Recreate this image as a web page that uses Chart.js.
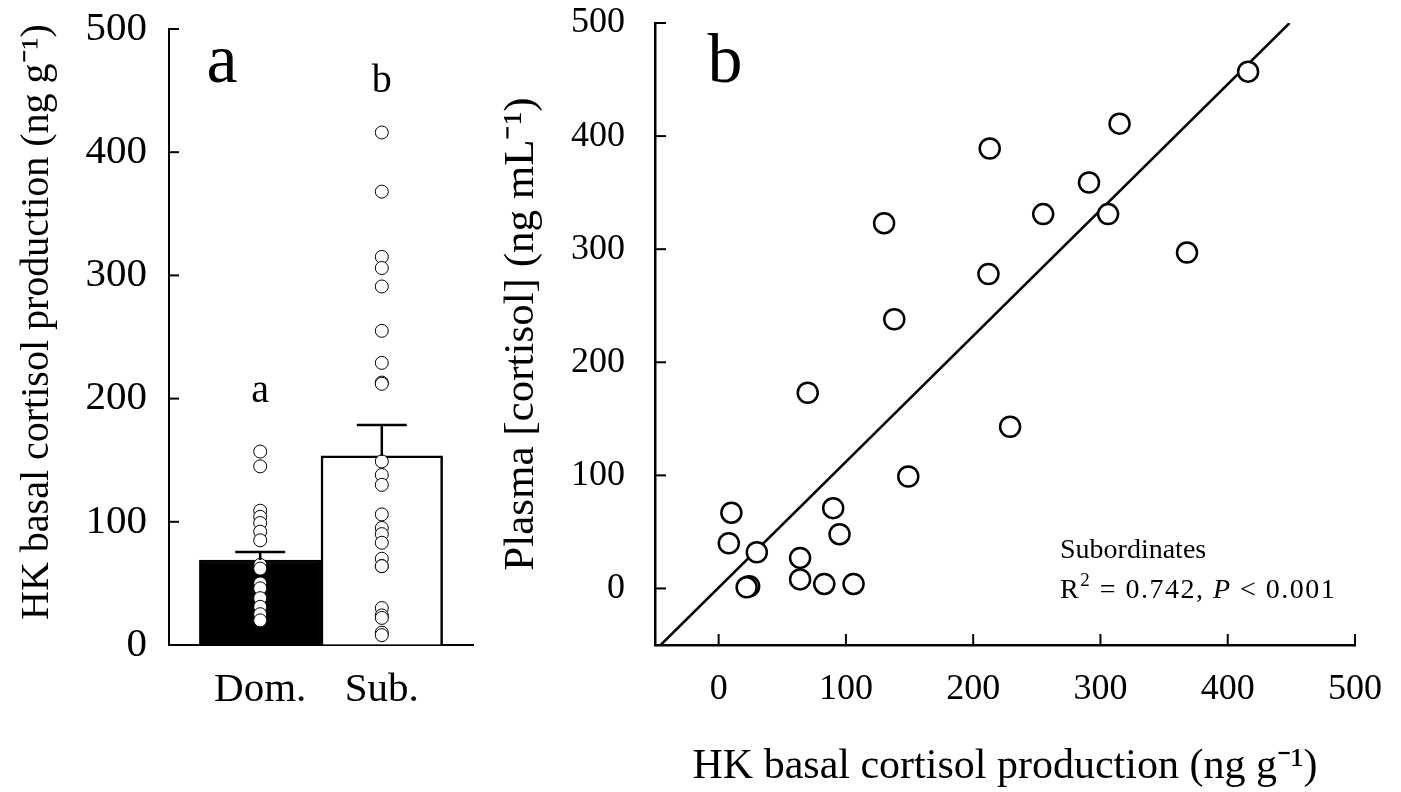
<!DOCTYPE html>
<html>
<head>
<meta charset="utf-8">
<script src="https://cdn.jsdelivr.net/npm/chart.js@4"></script>
<style>
  body { margin: 0; background: #fff; }
  #wrapA { position: absolute; left: 0; top: 0; width: 480px; height: 792px; }
  #wrapB { position: absolute; left: 480px; top: 0; width: 921px; height: 792px; }
</style>
</head>
<body>
<div id="wrapA"><canvas id="chartA"></canvas></div>
<div id="wrapB"><canvas id="chartB"></canvas></div>
<script>
// panel a: group means, SE and individual values
const groups = ['Dom.', 'Sub.'];
const groupMeans = [69, 153.5];
const groupSE = [6.5, 25];
const sigLetters = ['a', 'b'];
const sigHeights = [197, 449];
const domHK = [157, 145, 109, 104, 99, 92, 85, 65, 62, 50, 46, 38, 31, 25, 20];

// panel b: subordinates, HK production vs plasma cortisol
const subHK =     [416, 368, 315, 306, 291, 255, 229, 213, 212, 149, 138, 130, 106, 95, 90, 83, 70, 64, 64, 30, 24, 22, 10, 8];
const subPlasma = [457, 297, 411, 331, 359, 331, 143, 389, 278, 99, 238, 323, 4, 48, 71, 4, 173, 27, 8, 32, 2, 1, 67, 40];
const fitSlope = 1.113;
const fitIntercept = 0.7;
const fitYRange = [-50, 500];

const axisTicks = [0, 100, 200, 300, 400, 500];
const serif = 'Liberation Serif';

var fitLine = fitYRange.map(y => ({ x: (y - fitIntercept) / fitSlope, y: y }));

// invisible tick marks only used to push the labels away from the axis
function spacer(len) {
  return { display: true, drawOnChartArea: false, drawTicks: true, tickLength: len, tickColor: 'rgba(0,0,0,0)' };
}

// tick marks pointing into the plot
var inwardTicks = {
  id: 'inwardTicks',
  afterDraw(chart, args, opts) {
    const ctx = chart.ctx;
    ctx.save();
    ctx.strokeStyle = '#000';
    ctx.lineWidth = 2;
    opts.axes.forEach(function(id) {
      const s = chart.scales[id];
      const edge = s.isHorizontal() ? chart.chartArea.bottom : chart.chartArea.left;
      s.ticks.forEach(function(t) {
        const p = s.getPixelForValue(t.value);
        ctx.beginPath();
        if (s.isHorizontal()) {
          ctx.moveTo(p, edge);
          ctx.lineTo(p, edge - opts.length);
        } else {
          ctx.moveTo(edge, p);
          ctx.lineTo(edge + opts.length, p);
        }
        ctx.stroke();
      });
    });
    ctx.restore();
  }
};

var panelA = {
  id: 'panelA',
  afterDatasetsDraw(chart) {
    const ctx = chart.ctx;
    const x = chart.scales.x, y = chart.scales.y;
    ctx.save();
    ctx.strokeStyle = '#000';
    ctx.lineWidth = 2.5;
    groupMeans.forEach(function(m, i) {
      const px = x.getPixelForValue(i + 1);
      const top = y.getPixelForValue(m + groupSE[i]);
      ctx.beginPath();
      ctx.moveTo(px, y.getPixelForValue(m));
      ctx.lineTo(px, top);
      ctx.moveTo(px - 25, top);
      ctx.lineTo(px + 25, top);
      ctx.stroke();
    });
    ctx.fillStyle = '#000';
    ctx.textAlign = 'center';
    ctx.textBaseline = 'alphabetic';
    ctx.font = '40px "' + serif + '"';
    sigLetters.forEach(function(l, i) {
      ctx.fillText(l, x.getPixelForValue(i + 1), y.getPixelForValue(sigHeights[i]));
    });
    ctx.font = '70px "' + serif + '"';
    ctx.fillText('a', 222, 82);
    ctx.restore();
  }
};

var panelB = {
  id: 'panelB',
  afterDatasetsDraw(chart) {
    const ctx = chart.ctx;
    ctx.save();
    ctx.fillStyle = '#000';
    ctx.textBaseline = 'alphabetic';
    ctx.textAlign = 'center';
    ctx.font = '70px "' + serif + '"';
    ctx.fillText('b', 245, 82);
    ctx.textAlign = 'left';
    ctx.font = '28px "' + serif + '"';
    ctx.fillText('Subordinates', 580, 558);
    ctx.letterSpacing = '1.5px';
    var x0 = 580;
    ctx.fillText('R', x0, 598);
    x0 += ctx.measureText('R').width;
    ctx.font = '19px "' + serif + '"';
    ctx.fillText('2', x0, 586);
    x0 += ctx.measureText('2').width;
    ctx.font = '28px "' + serif + '"';
    var s1 = ' = 0.742, ';
    ctx.fillText(s1, x0, 598);
    x0 += ctx.measureText(s1).width;
    ctx.font = 'italic 28px "' + serif + '"';
    ctx.fillText('P', x0, 598);
    x0 += ctx.measureText('P').width;
    ctx.font = '28px "' + serif + '"';
    ctx.fillText(' < 0.001', x0, 598);
    ctx.restore();
  }
};

new Chart(document.getElementById('chartA'), {
  type: 'bar',
  data: {
    datasets: [
      {
        type: 'bar',
        data: groupMeans.map((m, i) => ({ x: i + 1, y: m })),
        backgroundColor: ['#000', '#fff'],
        borderColor: '#000',
        borderWidth: 2.5,
        categoryPercentage: 1,
        barPercentage: 1,
        order: 3
      },
      {
        type: 'scatter',
        data: domHK.map(v => ({ x: 1, y: v })),
        pointRadius: 6.5,
        pointBackgroundColor: '#fff',
        pointBorderColor: '#000',
        pointBorderWidth: 1,
        order: 1
      },
      {
        type: 'scatter',
        data: subHK.map(v => ({ x: 2, y: v })),
        pointRadius: 6.5,
        pointBackgroundColor: '#fff',
        pointBorderColor: '#000',
        pointBorderWidth: 1,
        order: 1
      }
    ]
  },
  options: {
    responsive: true,
    maintainAspectRatio: false,
    animation: false,
    layout: { autoPadding: false, padding: { top: 29, right: 7, left: 0, bottom: 0 } },
    plugins: {
      legend: { display: false },
      tooltip: { enabled: false },
      inwardTicks: { axes: ['y'], length: 10 }
    },
    scales: {
      x: {
        type: 'linear',
        offset: false,
        min: 0.25,
        max: 2.75,
        afterBuildTicks: s => { s.ticks = [{ value: 1 }, { value: 2 }]; },
        afterFit: s => { s.height = 147; },
        grid: spacer(21),
        border: { display: true, color: '#000', width: 2 },
        ticks: {
          padding: 0,
          color: '#000',
          font: { family: serif, size: 41 },
          callback: v => groups[v - 1]
        }
      },
      y: {
        min: 0,
        max: 500,
        afterBuildTicks: s => { s.ticks = axisTicks.map(v => ({ value: v })); },
        afterFit: s => { s.width = 169; },
        grid: spacer(22),
        border: { display: true, color: '#000', width: 2 },
        ticks: { padding: 0, color: '#000', font: { family: serif, size: 41 } },
        title: {
          display: true,
          text: '   HK basal cortisol production (ng g\u207b\u00b9)',
          color: '#000',
          font: { family: serif, size: 40 },
          padding: { top: 13, bottom: 0 }
        }
      }
    }
  },
  plugins: [inwardTicks, panelA]
});

new Chart(document.getElementById('chartB'), {
  type: 'scatter',
  data: {
    datasets: [
      {
        data: subHK.map((v, i) => ({ x: v, y: subPlasma[i] })),
        pointRadius: 10,
        pointBackgroundColor: '#fff',
        pointBorderColor: '#000',
        pointBorderWidth: 2.5,
        order: 1
      },
      {
        data: fitLine,
        showLine: true,
        pointRadius: 0,
        borderColor: '#000',
        borderWidth: 2.5,
        order: 2
      }
    ]
  },
  options: {
    responsive: true,
    maintainAspectRatio: false,
    animation: false,
    layout: { autoPadding: false, padding: { top: 23, right: 46, left: 0, bottom: 0 } },
    plugins: {
      legend: { display: false },
      tooltip: { enabled: false },
      inwardTicks: { axes: ['x', 'y'], length: 11 }
    },
    scales: {
      x: {
        min: -50,
        max: 500,
        afterBuildTicks: s => { s.ticks = axisTicks.map(v => ({ value: v })); },
        afterFit: s => { s.height = 147; },
        grid: spacer(23),
        border: { display: true, color: '#000', width: 2.5 },
        ticks: { padding: 0, color: '#000', font: { family: serif, size: 36 } },
        title: {
          display: true,
          text: 'HK basal cortisol production (ng g\u207b\u00b9)',
          color: '#000',
          font: { family: serif, size: 42 },
          padding: { top: 0, bottom: 0 }
        }
      },
      y: {
        min: -50,
        max: 500,
        afterBuildTicks: s => { s.ticks = axisTicks.map(v => ({ value: v })); },
        afterFit: s => { s.width = 175; },
        grid: spacer(30),
        border: { display: true, color: '#000', width: 2.5 },
        ticks: { padding: 0, color: '#000', font: { family: serif, size: 36 } },
        title: {
          display: true,
          text: 'Plasma [cortisol] (ng mL\u207b\u00b9)',
          color: '#000',
          font: { family: serif, size: 43 },
          padding: { top: 16, bottom: 0 }
        }
      }
    }
  },
  plugins: [inwardTicks, panelB]
});
</script>
</body>
</html>
